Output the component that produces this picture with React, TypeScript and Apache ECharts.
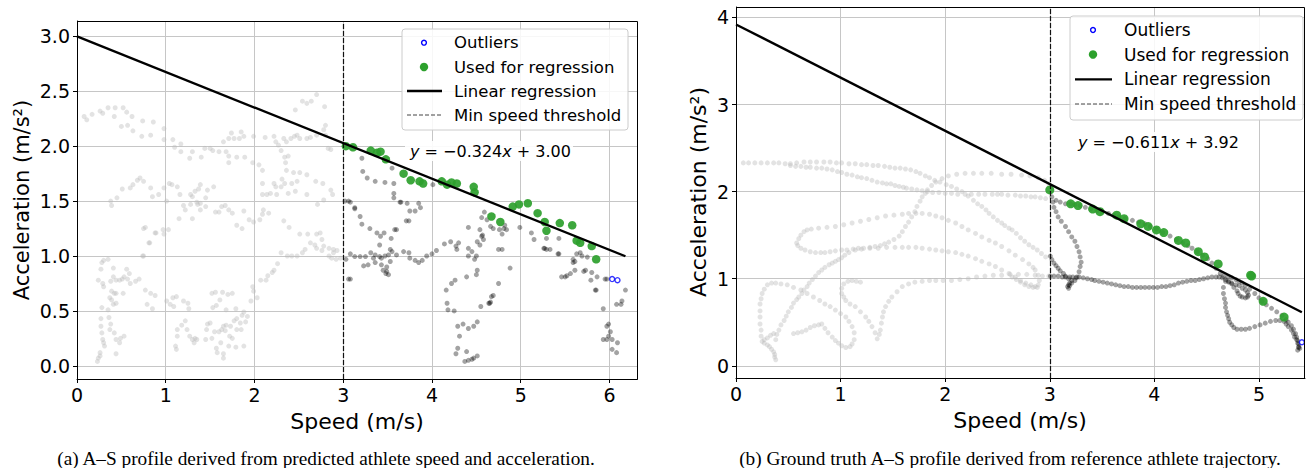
import React, { useEffect, useRef } from "react";
import * as echarts from "echarts";

// ---------------- (a) predicted profile ----------------
const lightLeft: number[][] = [
  [0.08,2.27],[0.11,2.24],[0.17,2.29],[0.26,2.32],[0.29,2.30],[0.35,2.35],[0.43,2.35],[0.52,2.35],[0.56,2.31],[0.62,2.27],[0.42,2.27],[0.50,2.18],[0.57,2.19],[0.63,2.14],[0.74,2.23],[0.86,2.22],[0.73,2.09],[0.83,2.10],[0.98,2.16],[0.98,2.06],[1.08,2.06],[1.10,1.99],[1.17,2.02],[1.17,1.95],[1.27,1.89],[1.30,1.95],[1.40,1.90],[1.44,1.98],[1.50,1.98],[1.53,1.96],[1.60,1.95],[1.65,2.04],[1.68,1.95],[1.71,2.07],[1.74,2.12],[1.77,2.07],[1.83,2.07],[1.85,2.13],[1.88,2.09],[1.71,1.91],[1.71,1.85],[1.80,1.90],[1.89,1.90],[1.98,1.85],[1.99,2.09],[2.05,1.83],[2.12,2.08],[2.22,2.09],[2.24,2.04],[2.27,2.01],[2.30,1.96],[2.33,2.07],[2.36,2.04],[2.41,2.07],[2.45,2.09],[2.48,2.10],[2.51,2.07],[2.59,2.07],[2.63,2.08],[2.70,2.10],[2.80,2.19],[2.78,2.15],[2.80,2.10],[2.83,1.98],[2.86,1.97],[2.46,2.33],[2.54,2.41],[2.59,2.39],[2.64,2.41],[2.70,2.47],[2.79,2.36],[2.38,1.91],[2.34,1.90],[2.35,1.85],[2.36,1.78],[2.31,1.70],[2.44,1.76],[2.51,1.76],[2.59,1.74],[2.48,1.68],[2.42,1.66],[2.34,1.66],[2.30,1.63],[2.22,1.66],[2.24,1.63],[2.18,1.57],[2.14,1.56],[2.09,1.56],[2.09,1.66],[2.25,1.56],[2.38,1.57],[2.46,1.59],[2.59,1.56],[2.69,1.68],[2.77,1.66],[2.86,1.60],[2.88,1.56],[2.78,1.51],[2.71,1.47],[2.09,1.78],[2.09,1.38],[2.10,1.42],[2.06,1.33],[2.16,1.39],[2.33,1.32],[2.39,1.26],
  [0.38,1.50],[0.39,1.46],[0.45,1.53],[0.51,1.61],[0.60,1.62],[0.63,1.65],[0.68,1.69],[0.71,1.71],[0.75,1.68],[0.83,1.62],[0.85,1.54],[0.92,1.56],[0.98,1.62],[1.01,1.50],[1.04,1.66],[1.07,1.65],[1.13,1.63],[1.16,1.56],[1.20,1.46],[1.28,1.56],[1.30,1.54],[1.33,1.59],[1.37,1.61],[1.39,1.65],[1.45,1.53],[1.47,1.60],[1.54,1.63],[1.28,1.47],[1.35,1.49],[1.36,1.47],[1.39,1.48],[1.45,1.45],[1.56,1.40],[1.60,1.40],[1.63,1.45],[1.67,1.46],[1.71,1.42],[1.75,1.39],[1.80,1.28],[1.86,1.25],[1.88,1.41],[1.94,1.33],[1.99,1.31],[0.77,1.26],[1.15,1.34],[1.22,1.42],[1.30,1.34],[1.39,1.42],
  [0.75,1.25],[0.81,1.12],[0.74,1.00],[0.88,1.21],[0.97,1.24],[1.03,1.24],
  [0.89,1.21],[0.98,1.20],[0.82,1.12],[0.75,1.00],[0.28,0.94],[0.30,0.96],[0.35,0.97],[0.27,0.88],[0.41,0.89],[0.56,0.88],[0.59,0.84],[0.41,0.81],[0.44,0.78],[0.48,0.78],[0.51,0.79],[0.53,0.81],[0.57,0.79],[0.60,0.75],[0.66,0.77],[0.70,0.79],[0.24,0.78],[0.29,0.75],[0.30,0.72],[0.38,0.77],[0.39,0.68],[0.42,0.66],[0.37,0.62],[0.44,0.66],[0.52,0.66],[0.39,0.60],[0.41,0.56],[0.44,0.57],[0.28,0.53],[0.35,0.51],[0.77,0.69],[0.83,0.66],[0.88,0.64],[0.79,0.56],[0.85,0.52],[1.01,0.59],[1.05,0.56],[1.08,0.62],[1.12,0.63],[1.20,0.59],[1.25,0.57],[1.26,0.52],[1.09,0.54],[1.52,0.66],[1.56,0.67],[1.64,0.67],[1.61,0.60],[1.70,0.65],[1.75,0.66],[1.53,0.53],[1.57,0.55],[1.68,0.51],[1.79,0.52],[1.88,0.49],[1.86,0.46],[1.92,0.45],[1.90,0.40],[1.84,0.39],[1.80,0.43],[1.77,0.41],[1.73,0.36],[1.68,0.37],[1.65,0.36],[1.63,0.33],[1.67,0.32],[1.60,0.31],[1.55,0.31],[1.52,0.25],[1.45,0.24],[1.50,0.39],[1.47,0.38],[1.46,0.33],[1.62,0.21],[1.57,0.16],[1.58,0.12],[1.65,0.11],[1.65,0.07],[1.71,0.18],[1.79,0.17],[1.88,0.18],[1.85,0.33],[1.80,0.33],[1.75,0.25],[1.72,0.27],[1.13,0.33],[1.11,0.18],[1.12,0.15],[1.13,0.27],[1.18,0.37],[1.22,0.41],[1.24,0.33],[1.27,0.27],[1.30,0.24],[1.32,0.21],[1.33,0.25],[1.35,0.24],[0.27,0.43],[0.27,0.36],[0.28,0.30],[0.29,0.24],[0.30,0.21],[0.31,0.18],[0.26,0.12],[0.24,0.07],[0.26,0.09],[0.36,0.44],[0.38,0.38],[0.37,0.33],[0.42,0.30],[0.44,0.24],[0.48,0.21],[0.49,0.25],[0.53,0.27],[0.44,0.11],[0.23,0.04],[1.96,0.59],[1.99,0.68],[2.03,0.62],[1.98,0.72],[2.07,0.78],[2.13,0.78],[2.15,0.82],[2.20,0.85],[2.22,0.87],[2.26,0.93],[2.30,1.03],[2.37,1.00],[2.42,1.00],[2.48,1.00],[2.54,1.03],[2.57,1.06],[2.51,1.20],[2.60,1.20],[2.70,1.20],[2.74,1.21],[2.76,1.15],[2.68,1.10],[2.63,1.12],[2.70,1.07],[2.78,1.09],[2.84,1.07],[2.76,1.05],[2.89,1.06],[2.93,1.05],[2.89,1.03],[2.84,1.00],[2.87,0.98],[2.92,0.97],[2.97,0.98]
];
const darkLeft: number[][] = [
  [3.21,1.89],[3.22,1.77],[3.27,1.71],[3.36,1.68],[3.47,1.67],[3.57,1.66],[3.57,1.57],[3.57,1.53],[3.65,1.49],[3.72,1.48],[3.85,1.48],[3.87,1.44],[3.81,1.41],[3.74,1.32],[3.58,1.24],[3.46,1.21],[3.42,1.18],[3.30,1.25],[3.19,1.36],[3.13,1.44],[3.02,1.50],[3.06,1.50],[3.08,1.49],[4.01,1.65],[3.55,1.80],[3.13,1.43],[3.21,1.29],[3.38,1.21],[3.54,1.16],[3.60,1.24],[3.71,1.32],[3.75,1.41],[3.64,1.49],
  [3.03,0.97],[3.08,1.02],[3.13,0.995],[3.19,0.995],[3.25,0.995],[3.31,1.03],[3.36,1.01],[3.41,0.995],[3.43,0.98],[3.47,1.00],[3.51,1.01],[3.53,0.95],[3.53,1.06],[3.41,1.10],[3.34,0.98],[3.36,0.94],[3.28,0.92],[3.23,0.91],[3.43,0.92],[3.49,0.90],[3.45,0.87],[3.48,0.84],[3.51,0.83],[3.49,0.86],[3.55,1.04],[3.60,1.01],[3.68,1.04],[3.74,1.03],[3.75,0.98],[3.81,0.96],[3.85,0.94],[3.89,0.96],[3.94,1.00],[4.00,1.02],[4.05,1.05],[4.14,1.11],[4.21,1.13],[4.27,1.09],[4.30,1.12],[4.41,1.07],[4.45,1.04],[4.54,1.10],[4.79,1.06],[4.48,0.97],[4.51,0.87],[4.39,0.81],[4.26,0.78],[4.22,0.75],[4.16,0.69],[4.17,0.57],[4.18,0.51],[4.25,0.50],[4.29,0.36],[4.35,0.38],[4.41,0.34],[4.47,0.36],[4.51,0.40],[4.31,0.27],[4.29,0.16],[4.39,0.13],[4.27,0.11],[4.37,0.04],[4.41,0.05],[4.45,0.06],[4.47,0.07],[4.51,0.09],[4.55,0.54],[4.64,0.57],[4.66,0.58],[4.69,0.64],[4.75,0.75],[4.88,0.89],[3.06,0.79],[3.08,0.79],
  [5.27,1.07],[5.29,1.06],[5.33,1.06],[5.43,1.02],[5.59,0.94],[5.61,0.95],[5.63,1.02],[5.67,1.03],[5.73,0.87],[5.46,0.81],[5.52,0.82],[5.56,0.84],[5.61,0.87],[5.80,0.85],[5.86,0.81],[5.79,0.78],[5.85,0.69],[5.93,0.52],[5.97,0.79],[6.18,0.69],[6.08,0.56],[6.13,0.56],[6.14,0.59],[5.97,0.36],[5.99,0.38],[6.01,0.31],[5.99,0.27],[5.93,0.24],[5.97,0.24],[6.03,0.24],[6.09,0.21],[6.03,0.15],[6.08,0.12],[5.69,1.00],[5.75,0.99],
  [4.59,1.40],[4.56,1.35],[4.62,1.33],[4.66,1.27],[4.69,1.25],[4.76,1.24],[4.81,1.25],[4.84,1.24],[4.99,1.26],[4.41,1.26],[4.56,1.18],[4.58,1.15],[4.51,1.13],[5.29,1.16],[5.43,1.16],[5.15,1.15],[4.54,1.24],[4.57,1.19],[4.82,1.28],[4.79,1.20],[4.75,1.06],[5.12,1.21],[5.26,1.07],[5.42,1.02],[5.59,0.97],[5.71,0.86],[5.50,0.81],[5.84,0.69],[5.95,0.79],[4.50,1.00],[4.67,0.63],[4.65,0.57],[4.50,0.83],[4.28,1.06],[4.41,1.00]
];
const greenLeft: number[][] = [
  [3.03,2.00],[3.11,1.99],[3.31,1.96],[3.38,1.94],[3.42,1.95],[3.48,1.88],[3.68,1.75],[3.76,1.69],[3.86,1.68],[3.90,1.66],[4.11,1.68],[4.17,1.65],[4.22,1.67],[4.28,1.66],[4.47,1.63],[4.48,1.58],[4.67,1.36],[4.77,1.31],[4.91,1.45],[4.98,1.47],[5.08,1.48],[5.19,1.39],[5.27,1.31],[5.29,1.23],[5.44,1.30],[5.58,1.28],[5.63,1.14],[5.67,1.12],[5.80,1.09],[5.85,0.97]
];
const outliersLeft: number[][] = [[6.03,0.79],[6.09,0.78]];
const slopeLeft = -0.324;
const interceptLeft = 3.0;

// ---------------- (b) ground truth profile ----------------
const lightRight: number[][] = [
  [0.07,2.33],[0.12,2.33],[0.18,2.33],[0.24,2.33],[0.30,2.33],[0.36,2.33],[0.41,2.33],[0.47,2.32],[0.52,2.32],[0.58,2.33],[0.65,2.34],[0.71,2.34],[0.77,2.34],[0.84,2.34],[0.90,2.34],[0.96,2.33],[1.01,2.33],[1.08,2.32],[1.14,2.32],[1.20,2.31],[1.25,2.31],[1.31,2.30],[1.36,2.30],[1.42,2.29],[1.47,2.28],[1.52,2.27],[1.57,2.27],[1.62,2.26],[1.67,2.25],[1.72,2.23],[1.76,2.21],[1.81,2.18],[1.85,2.16],[1.90,2.13],[1.95,2.11],[2.01,2.08],[2.06,2.06],[2.11,2.03],[2.16,2.00],[2.22,1.95],[2.27,1.90],[2.31,1.86],[2.35,1.83],[2.39,1.79],[2.42,1.75],[2.46,1.71],[2.50,1.67],[2.54,1.64],[2.57,1.61],[2.61,1.58],[2.64,1.56],[2.68,1.52],[2.72,1.47],[2.76,1.43],[2.80,1.39],[2.84,1.36],[2.88,1.33],[2.92,1.29],[2.96,1.25],
  [0.52,2.30],[0.57,2.29],[0.62,2.29],[0.67,2.28],[0.71,2.28],[0.77,2.27],[0.82,2.27],[0.87,2.26],[0.92,2.25],[0.97,2.23],[1.01,2.22],[1.06,2.20],[1.11,2.19],[1.16,2.17],[1.20,2.16],[1.25,2.15],[1.30,2.13],[1.35,2.11],[1.40,2.10],[1.44,2.09],[1.48,2.09],[1.52,2.07],[1.56,2.06],[1.60,2.05],[1.63,2.04],[1.68,2.03],[1.73,2.02],[1.78,2.01],[1.83,2.00],[1.88,1.99],[1.94,1.99],[2.00,1.98],[2.06,1.98],[2.12,1.97],[2.19,1.97],[2.25,1.97],[2.32,1.97],[2.38,1.97],[2.45,1.97],[2.50,1.97],[2.54,1.97],[2.60,1.96],[2.67,1.96],[2.72,1.95],[2.77,1.95],[2.82,1.94],[2.86,1.94],[2.91,1.93],[2.96,1.92],
  [0.68,1.56],[0.65,1.54],[0.62,1.50],[0.60,1.46],[0.58,1.41],[0.59,1.38],[0.62,1.35],[0.66,1.33],[0.71,1.31],[0.76,1.30],[0.81,1.30],[0.85,1.30],[0.90,1.31],[0.95,1.32],[1.01,1.33],[1.06,1.33],[1.12,1.34],[1.17,1.35],[1.22,1.35],[1.28,1.36],[1.33,1.37],[1.38,1.38],[1.42,1.40],[1.46,1.42],[1.51,1.45],[1.56,1.49],[1.59,1.54],[1.62,1.60],[1.65,1.65],[1.68,1.71],[1.71,1.77],[1.73,1.83],[1.76,1.89],[1.78,1.94],[1.81,1.98],[1.83,2.02],[1.87,2.07],[1.91,2.11],[1.97,2.15],[2.03,2.18],[2.11,2.20],[2.19,2.21],[2.27,2.21],[2.35,2.21],[2.44,2.21],[2.54,2.20],[2.63,2.20],[2.73,2.19],[2.81,2.18],[2.89,2.16],[2.95,2.13],[2.99,2.09],
  [0.72,1.57],[0.79,1.58],[0.87,1.59],[0.95,1.60],[1.03,1.62],[1.11,1.64],[1.19,1.66],[1.27,1.68],[1.35,1.70],[1.43,1.72],[1.51,1.73],[1.59,1.74],[1.65,1.75],[1.72,1.75],[1.78,1.75],[1.85,1.74],[1.91,1.72],[1.97,1.70],[2.03,1.67],[2.10,1.64],[2.16,1.60],[2.22,1.56],[2.29,1.52],[2.35,1.48],[2.42,1.44],[2.48,1.41],[2.54,1.37],[2.61,1.32],[2.67,1.27],[2.74,1.22],[2.80,1.17],[2.84,1.13],[2.86,1.10],[2.89,1.04],[2.90,0.98],[2.89,0.93],[2.88,0.90],[2.84,0.90],[2.80,0.91],[2.76,0.93],[2.72,0.96],[2.68,0.99],[2.64,1.02],
  [1.08,1.30],[1.14,1.33],[1.20,1.34],[1.28,1.35],[1.36,1.35],[1.44,1.36],[1.52,1.36],[1.59,1.36],[1.65,1.36],[1.72,1.36],[1.78,1.35],[1.85,1.34],[1.91,1.33],[1.97,1.32],[2.03,1.31],[2.10,1.30],[2.16,1.28],[2.22,1.26],[2.29,1.23],[2.35,1.20],[2.42,1.17],[2.48,1.14],[2.54,1.10],[2.61,1.06],[2.67,1.02],[2.72,0.98],[2.77,0.95],[2.82,0.93],[2.86,0.91],
  [0.38,0.30],[0.39,0.36],[0.41,0.41],[0.43,0.47],[0.46,0.52],[0.48,0.57],[0.50,0.62],[0.53,0.67],[0.55,0.72],[0.58,0.76],[0.60,0.79],[0.63,0.83],[0.65,0.87],[0.68,0.91],[0.70,0.95],[0.73,0.99],[0.76,1.03],[0.79,1.07],[0.82,1.10],[0.85,1.13],[0.89,1.16],[0.92,1.18],[0.95,1.20],[0.98,1.22],[1.01,1.24],[1.04,1.27],
  [0.38,0.07],[0.37,0.10],[0.37,0.13],[0.36,0.16],[0.34,0.19],[0.32,0.22],[0.30,0.24],[0.27,0.26],[0.25,0.28],[0.27,0.30],[0.30,0.32],[0.33,0.35],[0.36,0.37],[0.24,0.34],[0.24,0.41],[0.23,0.48],[0.23,0.56],[0.23,0.63],[0.23,0.71],[0.24,0.77],[0.25,0.83],[0.27,0.88],[0.30,0.93],[0.34,0.95],[0.38,0.95],[0.43,0.94],[0.49,0.93],[0.55,0.90],[0.62,0.87],[0.68,0.83],[0.74,0.79],[0.80,0.75],[0.85,0.71],[0.90,0.68],[0.95,0.64],[1.00,0.60],[1.05,0.56],[1.08,0.51],[1.11,0.45],[1.13,0.38],[1.13,0.30],[1.11,0.25],[1.09,0.22],[1.05,0.21],[1.01,0.23],[0.98,0.26],[0.95,0.29],[0.92,0.33],[0.88,0.38],[0.85,0.43],[0.82,0.48],[0.79,0.47],[0.75,0.46],[0.71,0.44],[0.67,0.41],[0.63,0.39],[0.59,0.38],[0.55,0.37],
  [1.19,0.96],[1.15,0.97],[1.11,0.98],[1.07,0.97],[1.03,0.94],[1.01,0.89],[1.01,0.83],[1.03,0.79],[1.05,0.75],[1.09,0.71],[1.14,0.68],[1.19,0.62],[1.24,0.56],[1.27,0.51],[1.30,0.45],[1.33,0.38],[1.35,0.31],[1.37,0.36],[1.38,0.41],[1.39,0.49],[1.40,0.56],[1.41,0.62],[1.43,0.68],[1.46,0.74],[1.49,0.79],[1.54,0.85],[1.59,0.91],[1.65,0.94],[1.71,0.96],[1.78,0.97],[1.85,0.98],[1.91,0.98],[1.98,0.98],[2.06,0.98],[2.14,0.99],[2.22,1.00],[2.30,1.02],[2.38,1.03],[2.46,1.04],[2.54,1.04],[2.62,1.05],[2.70,1.05],[2.78,1.05],[2.86,1.04],[2.93,1.03],[2.99,1.03]
];
const darkRight: number[][] = [
  [3.02,1.94],[3.06,1.90],[3.10,1.88],[3.15,1.86],[3.20,1.86],[3.24,1.85],[3.29,1.84],[3.34,1.82],[3.39,1.80],[3.45,1.78],[3.50,1.77],[3.56,1.75],[3.61,1.73],[3.66,1.71],[3.72,1.69],[3.79,1.67],[3.85,1.65],[3.91,1.63],[3.96,1.60],[4.02,1.57],[4.08,1.53],[4.15,1.49],[4.21,1.45],[4.27,1.41],[4.32,1.38],[4.36,1.35],[4.41,1.31],[4.46,1.27],[4.51,1.23],[4.55,1.18],[4.59,1.12],[4.63,1.06],[4.66,1.03],[4.70,1.02],[4.74,1.01],[4.78,0.99],[4.81,0.97],[4.84,0.95],[4.87,0.92],[4.91,0.88],[4.96,0.83],[5.00,0.78],[5.03,0.74],[5.07,0.70],[5.12,0.66],[5.17,0.62],[5.22,0.58],[5.26,0.53],[5.28,0.50],[5.31,0.46],[5.33,0.42],[5.35,0.37],[5.36,0.33],[5.37,0.29],[5.38,0.25],[5.38,0.21],[5.37,0.18],
  [3.03,1.88],[3.04,1.82],[3.06,1.77],[3.08,1.71],[3.11,1.66],[3.15,1.60],[3.18,1.54],[3.21,1.48],[3.24,1.43],[3.26,1.37],[3.28,1.31],[3.29,1.25],[3.30,1.19],[3.29,1.14],[3.28,1.08],[3.26,1.02],[3.24,0.98],[3.21,0.95],[3.19,0.92],[3.18,0.89],[3.17,0.91],[3.18,0.93],[3.19,0.95],
  [3.005,1.03],[3.04,1.03],[3.08,1.03],[3.12,1.02],[3.15,1.02],[3.19,1.02],[3.22,1.02],[3.25,1.01],[3.28,1.02],[3.32,1.01],[3.36,1.00],[3.40,0.99],[3.43,0.98],[3.47,0.97],[3.51,0.96],[3.55,0.95],[3.59,0.94],[3.63,0.93],[3.67,0.92],[3.71,0.91],[3.75,0.91],[3.79,0.90],[3.83,0.90],[3.87,0.90],[3.91,0.90],[3.95,0.90],[3.99,0.90],[4.03,0.90],[4.07,0.91],[4.11,0.91],[4.15,0.92],[4.19,0.93],[4.23,0.95],[4.27,0.96],[4.31,0.97],[4.35,0.98],[4.39,0.98],[4.43,0.99],[4.47,1.00],[4.51,1.01],[4.55,1.02],[4.59,1.02],[4.62,1.02],[4.65,1.01],[4.68,0.99],[4.71,0.97],[4.74,0.95],[4.78,0.93],[4.81,0.92],[4.84,0.89],[4.87,0.87],[4.89,0.84],[4.90,0.81],[4.89,0.79],[4.87,0.78],[4.84,0.79],[4.82,0.80],[4.80,0.83],[4.79,0.86],[4.76,0.90],[4.74,0.94],[4.71,0.96],[4.68,0.97],
  [3.005,1.26],[3.02,1.22],[3.04,1.18],[3.06,1.15],[3.08,1.12],[3.10,1.09],[3.13,1.06],[3.15,1.03],[3.18,1.00],[3.21,0.98],
  [4.66,0.90],[4.66,0.83],[4.67,0.77],[4.68,0.72],[4.68,0.67],[4.69,0.62],[4.70,0.58],[4.71,0.54],[4.72,0.50],[4.74,0.47],[4.76,0.44],[4.79,0.42],[4.83,0.42],[4.87,0.42],[4.91,0.43],[4.96,0.45],[5.01,0.47],[5.06,0.49],[5.11,0.51],[5.16,0.52],[5.20,0.52],[5.24,0.51],[5.26,0.48],[5.28,0.45],[5.31,0.41],[5.33,0.37],[5.34,0.33],[5.36,0.30],[5.37,0.26],[5.38,0.22],[5.39,0.20]
];
const greenRight: number[][] = [
  [3.00,2.02],[3.20,1.86],[3.27,1.84],[3.41,1.80],[3.48,1.77],[3.64,1.73],[3.71,1.69],[3.87,1.63],[3.94,1.60],[4.02,1.56],[4.09,1.53],[4.23,1.44],[4.30,1.41],[4.42,1.31],[4.48,1.25],[4.61,1.17],[4.92,1.04],[4.93,1.03],[5.04,0.74],[5.24,0.56]
];
const outliersRight: number[][] = [[5.41,0.27]];
const slopeRight = -0.611;
const interceptRight = 3.92;

const minSpeedThreshold = 3;
const xTicksLeft = [0, 1, 2, 3, 4, 5, 6];
const yTicksLeft = [0, 0.5, 1, 1.5, 2, 2.5, 3];
const xTicksRight = [0, 1, 2, 3, 4, 5];
const yTicksRight = [0, 1, 2, 3, 4];
const legendLabels = ["Outliers", "Used for regression", "Linear regression", "Min speed threshold"];
const captionLeft = "(a) A–S profile derived from predicted athlete speed and acceleration.";
const captionRight = "(b) Ground truth A–S profile derived from reference athlete trajectory.";

const FONT = "'DejaVu Sans', sans-serif";
const SERIF = "'Liberation Serif', 'Times New Roman', serif";

function maxSpeed(...sets: number[][][]) {
  let m = 0;
  sets.forEach((s) => s.forEach((p) => { if (p[0] > m) m = p[0]; }));
  return m;
}

function xAxisCfg(gridIndex: number, max: number, ticks: number[]) {
  return {
    type: "value", gridIndex, min: 0, max, interval: 1,
    axisLine: { show: true, onZero: false, lineStyle: { color: "#000", width: 1 } },
    axisTick: { show: true, length: 4, customValues: ticks, lineStyle: { color: "#000", width: 1 } },
    axisLabel: {
      customValues: ticks, color: "#000", fontSize: 19, fontFamily: FONT, margin: 6,
      formatter: (v: number) => (Math.abs(v - Math.round(v)) < 1e-6 ? String(Math.round(v)) : ""),
    },
    splitLine: { show: true, lineStyle: { color: "#c6c6c6", width: 1 } },
  };
}
function yAxisCfg(gridIndex: number, min: number, max: number, step: number, ticks: number[], digits: number) {
  return {
    type: "value", gridIndex, min, max, minInterval: step, maxInterval: step, splitNumber: Math.round((max - min) / step),
    axisLine: { show: true, onZero: false, lineStyle: { color: "#000", width: 1 } },
    axisTick: { show: true, length: 4, customValues: ticks, lineStyle: { color: "#000", width: 1 } },
    axisLabel: {
      customValues: ticks, color: "#000", fontSize: 19, fontFamily: FONT, margin: 7,
      formatter: (v: number) => (Math.abs(v / step - Math.round(v / step)) < 1e-6 ? v.toFixed(digits) : ""),
    },
    splitLine: { show: true, lineStyle: { color: "#c6c6c6", width: 1 } },
  };
}

function panelSeries(idx: number, light: number[][], dark: number[][], green: number[][], out: number[][], slope: number, intercept: number, greenSize: number) {
  const xm = maxSpeed(light, dark, green, out);
  return [
    { type: "scatter", name: "light", xAxisIndex: idx, yAxisIndex: idx, data: light, symbolSize: 5, z: 2,
      itemStyle: { color: "rgba(185,185,185,0.5)" }, silent: true },
    { type: "scatter", name: "dark", xAxisIndex: idx, yAxisIndex: idx, data: dark, symbolSize: 5, z: 3,
      itemStyle: { color: "rgba(0,0,0,0.45)" }, silent: true },
    { type: "scatter", name: legendLabels[1], xAxisIndex: idx, yAxisIndex: idx, data: green, symbolSize: greenSize, z: 4,
      itemStyle: { color: "#2ca02c", opacity: 0.92 }, silent: true },
    { type: "scatter", name: legendLabels[0], xAxisIndex: idx, yAxisIndex: idx, data: out, symbolSize: 5, z: 5,
      itemStyle: { color: "#ffffff", borderColor: "#0000ff", borderWidth: 1.4 }, silent: true },
    { type: "line", name: legendLabels[2], xAxisIndex: idx, yAxisIndex: idx, z: 6, silent: true,
      data: [[0, intercept], [xm, intercept + slope * xm]], showSymbol: false, symbol: "none",
      lineStyle: { color: "#000", width: 2.3 },
      markLine: {
        silent: true, symbol: "none", label: { show: false }, animation: false,
        lineStyle: { color: "#111", width: 1.2, type: [5, 2] },
        data: [{ xAxis: minSpeedThreshold }],
      },
    },
  ];
}

function legendGraphics(bx: number, by: number, bw: number, bh: number, ys: number[], mx: number, lx0: number, lx1: number, tx: number, fs: number) {
  const els: any[] = [
    { type: "rect", shape: { x: bx, y: by, width: bw, height: bh, r: 3 }, style: { fill: "rgba(255,255,255,0.85)", stroke: "#cccccc", lineWidth: 1 }, z: 100 },
    { type: "circle", shape: { cx: mx, cy: ys[0], r: 2.4 }, style: { fill: "#fff", stroke: "#0000ff", lineWidth: 1.4 }, z: 101 },
    { type: "circle", shape: { cx: mx, cy: ys[1], r: 4.2 }, style: { fill: "#2ca02c" }, z: 101 },
    { type: "line", shape: { x1: lx0, y1: ys[2], x2: lx1, y2: ys[2] }, style: { stroke: "#000", lineWidth: 2.3 }, z: 101 },
    { type: "line", shape: { x1: lx0, y1: ys[3], x2: lx1, y2: ys[3] }, style: { stroke: "#444", lineWidth: 1, lineDash: [4, 2] }, z: 101 },
  ];
  legendLabels.forEach((t, i) => {
    els.push({ type: "text", x: tx, y: ys[i], z: 101,
      style: { text: t, fill: "#000", fontSize: fs, fontFamily: FONT, align: "left", verticalAlign: "middle" } });
  });
  return els;
}

function equation(slope: number, intercept: number) {
  const s = slope < 0 ? "−" : "";
  return "{i|y}{n| = " + s + Math.abs(slope).toFixed(3) + "}{i|x}{n| + " + intercept.toFixed(2) + "}";
}

export default function App() {
  const ref = useRef<HTMLDivElement>(null);
  useEffect(() => {
    if (!ref.current) return;
    const chart = echarts.init(ref.current, null, { renderer: "svg" });
    const L = { left: 77, top: 21, width: 560, height: 358 };
    const R = { left: 736, top: 7, width: 569, height: 371 };
    const eqFs = 16;
    const rich = {
      i: { fontStyle: "italic", fontSize: eqFs, fontFamily: FONT, fill: "#000" },
      n: { fontSize: eqFs, fontFamily: FONT, fill: "#000" },
    };
    const option: any = {
      animation: false,
      backgroundColor: "#ffffff",
      grid: [
        { ...L, containLabel: false },
        { ...R, containLabel: false },
      ],
      xAxis: [xAxisCfg(0, 6.31, xTicksLeft), xAxisCfg(1, 5.44, xTicksRight)],
      yAxis: [yAxisCfg(0, -0.12, 3.14, 0.5, yTicksLeft, 1), yAxisCfg(1, -0.14, 4.12, 1, yTicksRight, 0)],
      series: [
        ...panelSeries(0, lightLeft, darkLeft, greenLeft, outliersLeft, slopeLeft, interceptLeft, 8.5),
        ...panelSeries(1, lightRight, darkRight, greenRight, outliersRight, slopeRight, interceptRight, 9),
      ],
      graphic: [
        { type: "rect", shape: { x: L.left + 0.5, y: L.top + 0.5, width: L.width, height: L.height }, style: { fill: "none", stroke: "#000", lineWidth: 1 }, z: 90, silent: true },
        { type: "rect", shape: { x: R.left + 0.5, y: R.top + 0.5, width: R.width - 1, height: R.height }, style: { fill: "none", stroke: "#000", lineWidth: 1 }, z: 90, silent: true },
        ...legendGraphics(402, 29, 226, 101, [42.7, 67, 91, 115], 424, 407, 442, 454, 16.5),
        ...legendGraphics(1070, 16, 233, 104, [30, 54.5, 79.3, 104], 1093, 1075, 1112, 1124, 17),
        { type: "rect", shape: { x: 405, y: 141, width: 168, height: 20 }, style: { fill: "rgba(255,255,255,0.9)" }, z: 95 },
        { type: "text", x: 410, y: 151, z: 96, style: { text: equation(slopeLeft, interceptLeft), rich, fontSize: eqFs, fontFamily: FONT, fill: "#000", align: "left", verticalAlign: "middle" } },
        { type: "rect", shape: { x: 1073, y: 132, width: 172, height: 20 }, style: { fill: "rgba(255,255,255,0.9)" }, z: 95 },
        { type: "text", x: 1078, y: 142, z: 96, style: { text: equation(slopeRight, interceptRight), rich, fontSize: 16.5, fontFamily: FONT, fill: "#000", align: "left", verticalAlign: "middle" } },
        { type: "text", x: 22, y: 200, rotation: Math.PI / 2, style: { text: "Acceleration (m/s²)", fill: "#000", fontSize: 21, fontFamily: FONT, align: "center", verticalAlign: "middle" } },
        { type: "text", x: 357, y: 421, style: { text: "Speed (m/s)", fill: "#000", fontSize: 22, fontFamily: FONT, align: "center", verticalAlign: "middle" } },
        { type: "text", x: 698, y: 192, rotation: Math.PI / 2, style: { text: "Acceleration (m/s²)", fill: "#000", fontSize: 22, fontFamily: FONT, align: "center", verticalAlign: "middle" } },
        { type: "text", x: 1020, y: 420, style: { text: "Speed (m/s)", fill: "#000", fontSize: 22, fontFamily: FONT, align: "center", verticalAlign: "middle" } },
        { type: "text", x: 326, y: 458, style: { text: captionLeft, fill: "#000", fontSize: 19.3, fontFamily: SERIF, align: "center", verticalAlign: "middle" } },
        { type: "text", x: 1010, y: 458, style: { text: captionRight, fill: "#000", fontSize: 19.3, fontFamily: SERIF, align: "center", verticalAlign: "middle" } },
      ],
    };
    chart.setOption(option);
    return () => chart.dispose();
  }, []);
  return <div ref={ref} style={{ position: "absolute", left: 0, top: 0, width: 1307, height: 468 }} />;
}
